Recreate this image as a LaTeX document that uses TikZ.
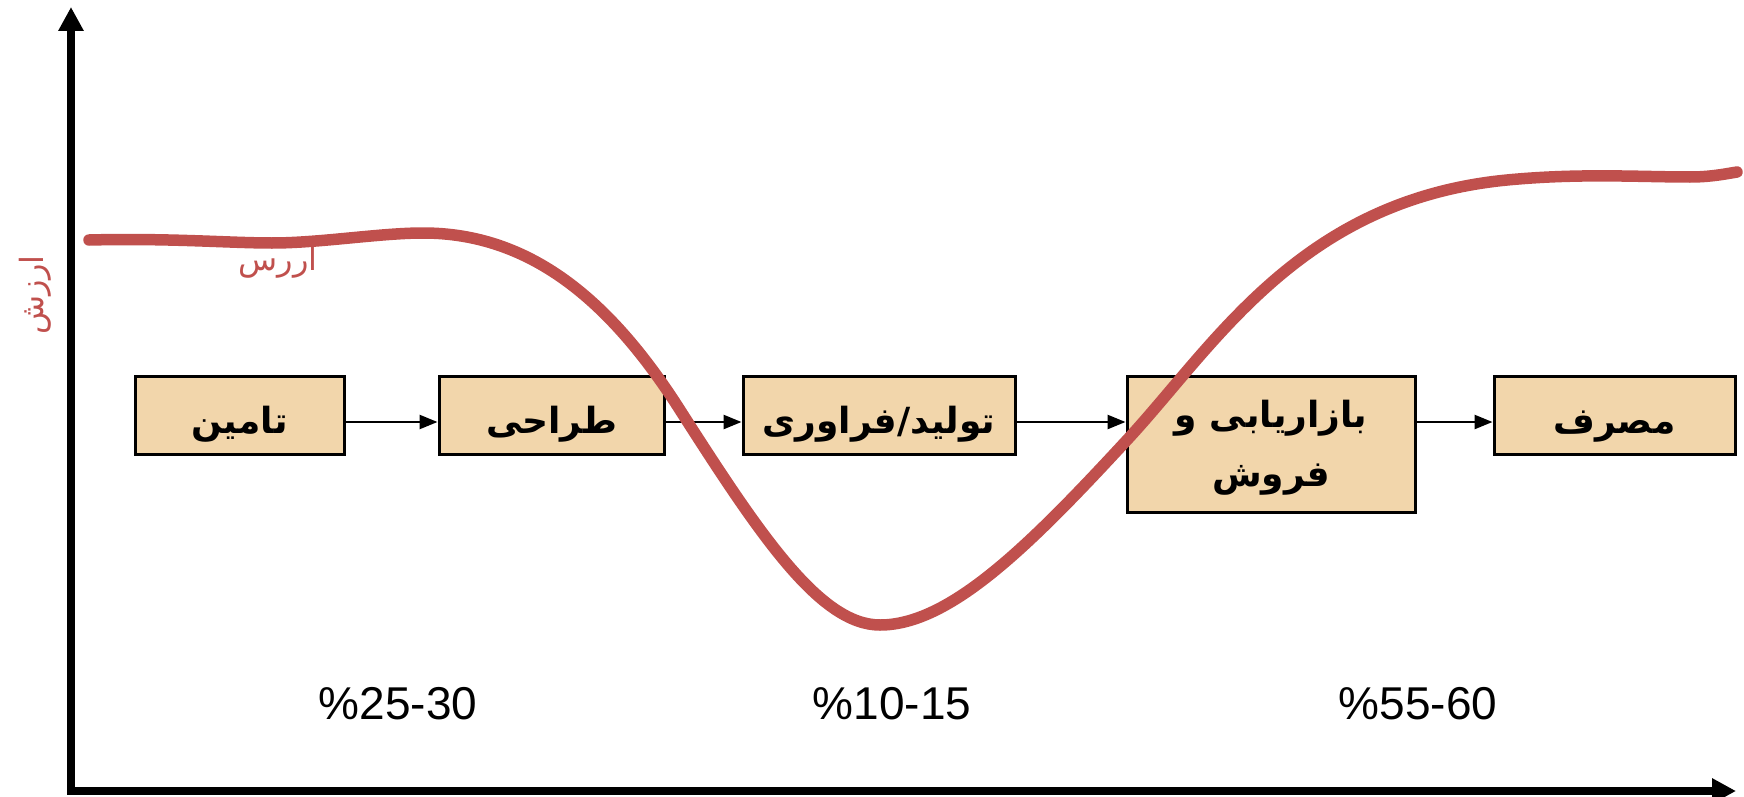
\documentclass[tikz,border=0pt]{standalone}
\usepackage{fontspec}
\setmainfont{Liberation Sans}
\newfontfamily\arabicfont[Script=Arabic]{DejaVu Sans}
\TeXXeTstate=1
\usetikzlibrary{arrows.meta}
\definecolor{curvered}{HTML}{C0504D}
\definecolor{boxfill}{HTML}{F2D6AB}
\begin{document}
\begin{tikzpicture}[x=1pt,y=-1pt,
  boxtext/.style={font=\arabicfont\bfseries\fontsize{36}{50}\selectfont, align=center, inner sep=0pt},
  stagebox/.style={draw=black, line width=3pt, fill=boxfill, minimum height=78pt,
    inner sep=0pt, boxtext, text height=36pt, text depth=0pt},
  flow/.style={line width=2.5pt, -{Triangle[width=14pt,length=18pt]}},
  axis/.style={line width=8pt, -{Triangle[width=24pt,length=24pt]}},
  pct/.style={font=\fontsize{46}{50}\selectfont},
  redlabel/.style={text=curvered, font=\arabicfont\fontsize{32}{34}\selectfont}]
\useasboundingbox (0,0) rectangle (1744,797);
% axes
\coordinate (O) at (71,791);
\coordinate (Ytop) at (71,7);
\coordinate (Xend) at (1736,791);
\draw[axis] (O) -- (Ytop);
\draw[axis] ([xshift=-4pt]O) -- (Xend);
% labels
\node[redlabel, rotate=90] (ylab) at (35,295) {\beginR ارزش\endR};
\node[redlabel] (curvelab) at (278,262) {\beginR اررس\endR};
% boxes
\node[stagebox, minimum width=209pt] (b1) at (239.5,415) {\beginR تامین\endR};
\node[stagebox, minimum width=225pt] (b2) at (551.5,415) {\beginR طراحی\endR};
\node[stagebox, minimum width=272pt] (b3) at (879,415) {\beginR تولید/فراوری\endR};
\node[draw=black, line width=3pt, fill=boxfill, minimum width=288pt, minimum height=136pt,
  label={[boxtext, yshift=-4pt]center:{\beginR بازاریابی و\endR\\[9pt]\beginR فروش\endR}}] (b4) at (1271,444) {};
\node[stagebox, minimum width=241pt] (b5) at (1614.5,415) {\beginR مصرف\endR};
\coordinate (ar) at (0,422);
\draw[flow] (b1.east |- ar) -- (b2.west |- ar);
\draw[flow] (b2.east |- ar) -- (b3.west |- ar);
\draw[flow] (b3.east |- ar) -- (b4.west |- ar);
\draw[flow] (b4.east |- ar) -- (b5.west |- ar);
% curve
\draw[curvered, line width=11.5pt, line cap=round]
 (89,240) .. controls (170,238) and (230,243) .. (272,243)
 .. controls (320,243) and (380,233) .. (423,233)
 .. controls (530,233) and (610,300) .. (680,410)
 .. controls (760,535) and (820,625) .. (880,625)
 .. controls (950,625) and (1030,545) .. (1127,440)
 .. controls (1215,345) and (1300,200) .. (1507,180)
 .. controls (1580,173) and (1640,177) .. (1690,177)
 .. controls (1710,177) and (1725,174) .. (1737,172);
% percentages
\node[pct] (p1) at (398,704) {\%25-30};
\node[pct] (p2) at (892,704) {\%10-15};
\node[pct] (p3) at (1418,704) {\%55-60};
\end{tikzpicture}
\end{document}
